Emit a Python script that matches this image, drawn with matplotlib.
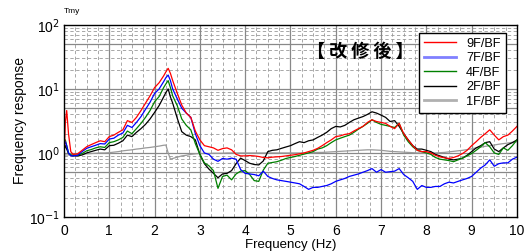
import numpy as np
import matplotlib
matplotlib.use('Agg')
import matplotlib.pyplot as plt
from matplotlib.lines import Line2D

plt.rcParams['font.family'] = ['Liberation Sans', 'Noto Sans CJK JP', 'DejaVu Sans']

# Frequency points (Hz)
freq = [0.0, 0.03, 0.06, 0.1, 0.15, 0.2, 0.3, 0.4, 0.5, 0.6, 0.7, 0.8, 0.9,
        1.0, 1.1, 1.2, 1.3, 1.4, 1.5, 1.6, 1.7, 1.8, 1.9, 2.0, 2.1, 2.2, 2.25,
        2.3, 2.35, 2.4, 2.5, 2.6, 2.7, 2.8, 2.9, 3.0,
        3.1, 3.2, 3.3, 3.4, 3.5, 3.6, 3.7, 3.8, 3.9, 4.0,
        4.1, 4.2, 4.3, 4.4, 4.5, 4.6, 4.7, 4.8, 4.9, 5.0,
        5.1, 5.2, 5.3, 5.4, 5.5, 5.6, 5.7, 5.8, 5.9, 6.0,
        6.1, 6.2, 6.3, 6.4, 6.5, 6.6, 6.7, 6.8, 6.9, 7.0,
        7.1, 7.2, 7.3, 7.4, 7.5, 7.6, 7.7, 7.8, 7.9, 8.0,
        8.1, 8.2, 8.3, 8.4, 8.5, 8.6, 8.7, 8.8, 8.9, 9.0,
        9.1, 9.2, 9.3, 9.4, 9.5, 9.6, 9.7, 9.8, 9.9, 10.0]

# 9F/BF
r9f = [0.75, 3.0, 4.6, 2.0, 1.05, 0.95, 0.97, 1.1, 1.25, 1.35, 1.45, 1.55, 1.5,
       1.8, 1.9, 2.1, 2.3, 3.2, 3.0, 3.6, 4.6, 6.0, 7.8, 10.5, 12.5, 16.0, 18.5,
       21.0, 17.5, 13.5, 8.6, 5.6, 4.2, 3.6, 2.2, 1.6,
       1.3, 1.25, 1.2, 1.1, 1.17, 1.2, 1.12, 0.95, 0.9, 0.9,
       0.91, 0.9, 0.88, 0.85, 0.84, 0.86, 0.87, 0.88, 0.9, 0.92,
       0.94, 0.97, 1.0, 1.05, 1.1, 1.18, 1.3, 1.45, 1.6, 1.8,
       1.85, 1.95, 2.0, 2.2, 2.4, 2.6, 3.0, 3.3, 3.1, 3.0,
       2.9, 2.6, 2.4, 2.9, 2.0, 1.6, 1.3, 1.1, 1.05, 1.05,
       1.0, 0.92, 0.87, 0.84, 0.82, 0.85, 0.9, 0.98, 1.1, 1.3,
       1.5, 1.75, 2.0, 2.3, 1.9, 1.6, 1.8, 1.9, 2.2, 2.6]

# 7F/BF
r7f = [1.3, 1.5, 1.3, 1.0, 0.9, 0.9, 0.92, 1.05, 1.18, 1.25, 1.32, 1.4, 1.38,
       1.65, 1.7, 1.9, 2.05, 2.7, 2.5, 3.0, 3.7, 4.8, 6.2, 8.5, 10.0, 13.0, 15.0,
       16.5, 13.5, 10.0, 7.0, 5.0, 4.2, 3.6, 2.0, 1.3,
       1.0, 0.95, 0.8, 0.74, 0.82, 0.8, 0.83, 0.8, 0.55, 0.48,
       0.47, 0.46, 0.44, 0.52, 0.43, 0.4, 0.38, 0.37, 0.36, 0.35,
       0.34, 0.33, 0.3, 0.27, 0.29, 0.29, 0.3, 0.31, 0.33, 0.36,
       0.38, 0.4, 0.43, 0.45, 0.47, 0.5, 0.53, 0.57, 0.5, 0.55,
       0.5, 0.51, 0.52, 0.57, 0.46, 0.41, 0.36, 0.27, 0.31, 0.29,
       0.29, 0.3, 0.3, 0.33, 0.35, 0.34, 0.36, 0.38, 0.4, 0.43,
       0.5, 0.58, 0.65, 0.78, 0.62, 0.68, 0.7, 0.7, 0.8, 0.86]

# 4F/BF
r4f = [1.4, 1.6, 1.3, 1.0, 0.93, 0.92, 0.92, 0.98, 1.08, 1.13, 1.2, 1.25, 1.22,
       1.45, 1.5, 1.6, 1.75, 2.2, 2.0, 2.4, 2.9, 3.6, 4.6, 6.3, 7.6, 10.5, 12.0,
       13.5, 10.5, 7.8, 5.5, 3.4, 2.7, 2.3, 1.4, 0.95,
       0.7, 0.63, 0.53, 0.28, 0.43, 0.45, 0.38, 0.47, 0.52, 0.53,
       0.46, 0.37, 0.36, 0.54, 0.69, 0.71, 0.73, 0.77, 0.82, 0.85,
       0.88, 0.92, 0.96, 1.0, 1.05, 1.15, 1.2, 1.3, 1.45, 1.6,
       1.7, 1.8, 1.9, 2.1, 2.35, 2.6, 2.9, 3.3, 3.0, 2.8,
       2.7, 2.6, 2.5, 2.9, 1.9, 1.5, 1.25, 1.1, 1.05, 1.0,
       0.95, 0.85, 0.8, 0.78, 0.76, 0.73, 0.78, 0.83, 0.9, 0.98,
       1.1, 1.25, 1.45, 1.25, 1.0, 0.95, 1.2, 1.1, 1.3, 1.6]

# 2F/BF
r2f = [1.1, 1.3, 1.15, 0.98, 0.92, 0.9, 0.9, 0.93, 1.0, 1.05, 1.1, 1.15, 1.12,
       1.3, 1.32, 1.42, 1.55, 1.9, 1.8, 2.1, 2.4, 2.8, 3.4, 4.3, 5.5, 7.5, 8.8,
       10.0, 7.5, 6.0, 3.5, 2.15, 1.9, 1.8, 1.6, 0.95,
       0.68, 0.56, 0.48, 0.41, 0.47, 0.48, 0.53, 0.68, 0.83, 0.76,
       0.69, 0.66, 0.65, 0.75, 1.05, 1.1, 1.12, 1.18, 1.24, 1.3,
       1.4, 1.5, 1.45, 1.55, 1.6, 1.75, 1.9, 2.1, 2.4, 2.6,
       2.55, 2.7, 3.0, 3.3, 3.5, 3.7, 4.0, 4.4, 4.2, 3.9,
       3.6, 3.1, 3.2, 2.6, 2.0, 1.6, 1.3, 1.15, 1.15, 1.1,
       1.05, 0.95, 0.9, 0.85, 0.8, 0.78, 0.8, 0.83, 0.92, 1.05,
       1.2, 1.3, 1.45, 1.5, 1.15, 1.05, 1.2, 1.35, 1.45, 1.6]

# 1F/BF
r1f = [0.93, 0.93, 0.93, 0.93, 0.93, 0.94, 0.95, 0.96, 0.97, 0.98, 0.99, 1.0, 1.0,
       1.01, 1.03, 1.05, 1.08, 1.1, 1.12, 1.15, 1.17, 1.2, 1.22, 1.25, 1.28, 1.32, 1.33,
       1.0, 0.8, 0.82, 0.86, 0.9, 0.92, 0.95, 0.97, 0.98,
       0.98, 0.98, 0.99, 0.99, 0.99, 1.0, 1.0, 1.0, 1.0, 1.0,
       1.0, 1.0, 1.0, 1.0, 1.0, 1.0, 1.0, 1.0, 1.0, 1.0,
       1.0, 1.0, 1.0, 1.0, 1.01, 1.02, 1.02, 1.03, 1.04, 1.05,
       1.06, 1.07, 1.08, 1.09, 1.1, 1.11, 1.12, 1.12, 1.11, 1.1,
       1.08, 1.06, 1.05, 1.04, 1.03, 1.02, 1.01, 1.0, 1.0, 1.0,
       1.0, 1.0, 1.01, 1.02, 1.04, 1.06, 1.08, 1.1, 1.13, 1.16,
       1.2, 1.23, 1.27, 1.3, 1.33, 1.37, 1.4, 1.43, 1.47, 1.5]

labels = ['9F/BF', '7F/BF', '4F/BF', '2F/BF', '1F/BF']
colors = ['#ff0000', '#0000ff', '#008000', '#000000', '#999999']


def main():
    fig = plt.figure(figsize=(5.31, 2.52), dpi=100)
    ax = fig.add_axes([0.1205, 0.139, 0.853, 0.762])

    # grid: solid at 1-5-10 style lines, dashed minor
    for v in [0.5, 1, 5, 10, 50]:
        ax.axhline(v, color='#888888', lw=0.9, zorder=1)
    minor_y = [0.2, 0.3, 0.4, 0.6, 0.7, 0.8, 0.9, 2, 3, 4, 6, 7, 8, 9,
               20, 30, 40, 60, 70, 80, 90]
    for v in minor_y:
        ax.axhline(v, color='#999999', lw=0.6, ls=(0, (4, 3)), zorder=1)
    for x in range(1, 10):
        ax.axvline(x, color='#888888', lw=0.9, zorder=1)
    for x in np.arange(0.25, 10, 0.25):
        if abs(x - round(x)) > 1e-6:
            ax.axvline(x, color='#999999', lw=0.6, ls=(0, (4, 3)), zorder=1)

    series = [r9f, r7f, r4f, r2f, r1f]
    # draw gray first so colored lines sit on top
    order = [4, 3, 2, 1, 0]
    for i in order:
        ax.plot(freq, series[i], color=colors[i], lw=0.9, zorder=3)

    ax.set_yscale('log')
    ax.set_xlim(0, 10)
    ax.set_ylim(0.1, 100)
    ax.set_xticks(range(0, 11))
    ax.set_yticks([0.1, 1, 10, 100])
    ax.set_yticklabels(['10$^{-1}$', '10$^{0}$', '10$^{1}$', '10$^{2}$'])
    ax.yaxis.set_minor_locator(matplotlib.ticker.NullLocator())
    ax.tick_params(length=0, labelsize=10, pad=3)
    ax.tick_params(axis='x', pad=5)
    for s in ax.spines.values():
        s.set_linewidth(1.0)
        s.set_zorder(5)

    ax.set_xlabel('Frequency (Hz)', fontsize=9.5, labelpad=1)
    ax.set_ylabel('Frequency response', fontsize=10, labelpad=1)

    handles = [
        Line2D([], [], color='#ff0000', lw=1.0),
        Line2D([], [], color='#8080ff', lw=2.0),
        Line2D([], [], color='#008000', lw=1.0),
        Line2D([], [], color='#000000', lw=1.0),
        Line2D([], [], color='#b0b0b0', lw=2.0),
    ]
    leg = ax.legend(handles, labels, loc='upper right',
                    bbox_to_anchor=(0.975, 0.96), fontsize=9.2,
                    frameon=True, fancybox=False, framealpha=1,
                    edgecolor='black', labelspacing=0.2, handlelength=2.5,
                    handletextpad=0.8, borderpad=0.4, borderaxespad=0)
    leg.get_frame().set_linewidth(1.0)
    leg.set_zorder(6)

    ax.text(0.655, 0.86, '【 改 修 後 】', transform=ax.transAxes,
            ha='center', va='center', fontsize=13, fontweight='bold',
            family=['Noto Sans CJK JP', 'DejaVu Sans'], zorder=6)

    fig.text(0.12, 0.955, 'Tmy', fontsize=6, ha='left', va='center')

    plt.savefig('out.png', dpi=100)
    plt.close()


if __name__ == "__main__":
    main()
